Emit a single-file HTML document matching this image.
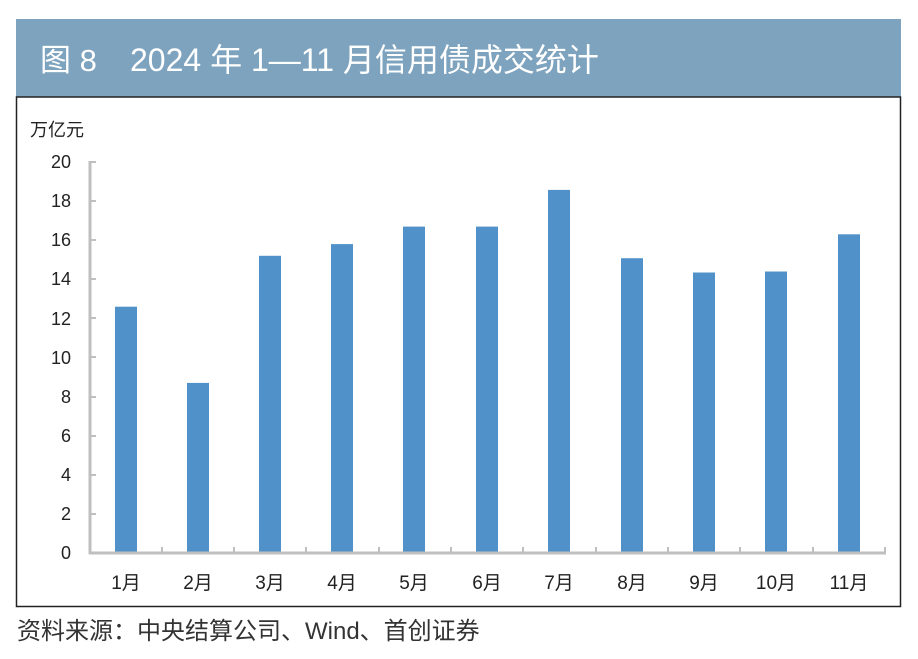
<!DOCTYPE html>
<html><head><meta charset="utf-8"><style>
body{margin:0;background:#fff;width:918px;height:659px;overflow:hidden}
svg{display:block}
text{font-family:"Liberation Sans","Noto Sans CJK SC",sans-serif}
</style></head><body>
<svg width="918" height="659" viewBox="0 0 918 659">
<rect x="16" y="19" width="885" height="78" fill="#7ea3be"/>
<text x="40" y="71" font-size="31" fill="#fff">图 8</text>
<text x="130" y="71" font-size="32" fill="#fff">2024 年 1—11 月信用债成交统计</text>
<rect x="16.5" y="97" width="884" height="509.5" fill="none" stroke="#222" stroke-width="1.5"/>
<text x="30" y="136" font-size="18" fill="#222">万亿元</text>
<g font-size="18" fill="#222" text-anchor="end">
<text x="71" y="559">0</text><text x="71" y="520">2</text><text x="71" y="481">4</text><text x="71" y="442">6</text><text x="71" y="403">8</text><text x="71" y="364">10</text><text x="71" y="325">12</text><text x="71" y="285">14</text><text x="71" y="246">16</text><text x="71" y="207">18</text><text x="71" y="168">20</text>
</g>
<g fill="#5091c9">
<rect x="115" y="306.7" width="22" height="246.3"/>
<rect x="187" y="382.9" width="22" height="170.1"/>
<rect x="259" y="255.8" width="22" height="297.2"/>
<rect x="331" y="244.1" width="22" height="308.9"/>
<rect x="403" y="226.6" width="22" height="326.4"/>
<rect x="476" y="226.6" width="22" height="326.4"/>
<rect x="548" y="189.9" width="22" height="363.1"/>
<rect x="621" y="258.2" width="22" height="294.8"/>
<rect x="693" y="272.5" width="22" height="280.5"/>
<rect x="765" y="271.5" width="22" height="281.5"/>
<rect x="838" y="234.3" width="22" height="318.7"/>
</g>
<g stroke="#bfbfbf" stroke-width="3" fill="none">
<line x1="90" y1="161" x2="90" y2="554"/>
<line x1="89" y1="553" x2="886" y2="553"/>
</g>
<g stroke="#bfbfbf" stroke-width="2">
<line x1="90" y1="162" x2="96" y2="162"/><line x1="90" y1="201" x2="96" y2="201"/><line x1="90" y1="240" x2="96" y2="240"/><line x1="90" y1="279" x2="96" y2="279"/><line x1="90" y1="318" x2="96" y2="318"/><line x1="90" y1="357" x2="96" y2="357"/><line x1="90" y1="397" x2="96" y2="397"/><line x1="90" y1="436" x2="96" y2="436"/><line x1="90" y1="475" x2="96" y2="475"/><line x1="90" y1="514" x2="96" y2="514"/>
<line x1="162" y1="547" x2="162" y2="553"/><line x1="234" y1="547" x2="234" y2="553"/><line x1="306" y1="547" x2="306" y2="553"/><line x1="379" y1="547" x2="379" y2="553"/><line x1="451" y1="547" x2="451" y2="553"/><line x1="523" y1="547" x2="523" y2="553"/><line x1="596" y1="547" x2="596" y2="553"/><line x1="668" y1="547" x2="668" y2="553"/><line x1="740" y1="547" x2="740" y2="553"/><line x1="813" y1="547" x2="813" y2="553"/><line x1="885" y1="547" x2="885" y2="553"/>
</g>
<g font-size="19" fill="#222" text-anchor="middle">
<text x="126" y="589">1月</text><text x="198" y="589">2月</text><text x="270" y="589">3月</text><text x="342" y="589">4月</text><text x="414" y="589">5月</text><text x="487" y="589">6月</text><text x="559" y="589">7月</text><text x="632" y="589">8月</text><text x="704" y="589">9月</text><text x="776" y="589">10月</text><text x="849" y="589">11月</text>
</g>
<text x="17" y="639" font-size="24" fill="#333">资料来源：中央结算公司、Wind、首创证券</text>
</svg>
</body></html>
